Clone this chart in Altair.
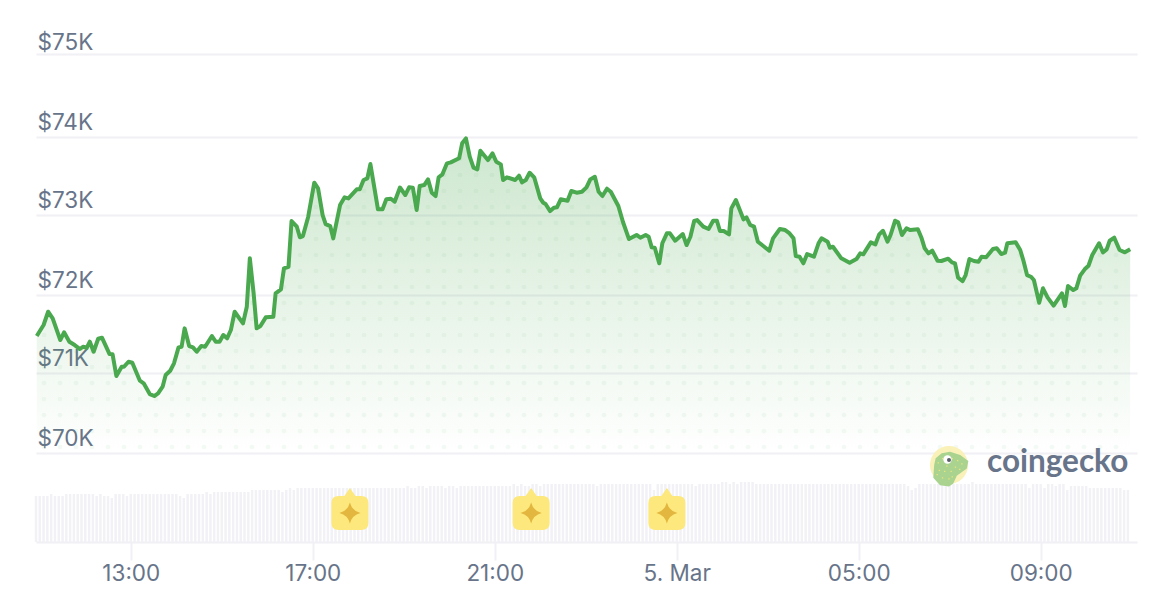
import datetime as dt
import numpy as np
import pandas as pd
import altair as alt

# ---- price series: minutes after 10:55 and USD price
line_minutes = [1,10,16,22,32,37,44,51,58,62,67,71,76,82,87,97,101,106,113,116,122,127,137,142,150,156,161,167,171,177,182,188,192,196,202,207,212,218,223,232,237,242,247,252,257,262,273,278,282,287,291,296,303,313,316,323,327,333,337,344,348,352,359,367,372,378,382,388,392,401,407,412,423,427,432,437,441,451,457,462,468,473,480,487,492,497,502,506,512,517,522,527,531,536,542,547,558,562,567,572,577,582,586,596,602,607,613,616,621,632,637,641,646,651,657,665,669,672,678,683,687,692,701,706,713,720,726,731,737,742,747,753,758,768,774,782,792,797,804,808,812,816,822,826,832,836,843,853,858,863,868,872,880,887,893,898,902,907,914,917,923,933,937,942,947,952,967,972,981,988,993,999,1002,1007,1012,1017,1026,1032,1036,1044,1047,1051,1062,1073,1082,1087,1091,1101,1107,1112,1117,1123,1127,1133,1137,1142,1148,1153,1163,1168,1172,1177,1182,1189,1194,1203,1208,1212,1216,1222,1226,1231,1237,1243,1247,1253,1262,1267,1273,1278,1281,1292,1298,1302,1307,1312,1316,1323,1328,1334,1342,1353,1357,1361,1368,1372,1377,1383,1388,1393,1402,1407,1412,1416,1422,1429,1436,1443]
line_prices = [71466,71604,71770,71688,71416,71512,71395,71353,71303,71332,71319,71395,71269,71432,71445,71240,71237,70965,71081,71081,71144,71131,70906,70873,70739,70714,70748,70831,70977,71031,71124,71324,71332,71562,71341,71324,71269,71341,71332,71466,71395,71395,71479,71437,71541,71770,71625,71833,72440,72001,71562,71591,71700,71708,72001,72051,72314,72334,72907,72836,72703,72719,72961,73387,73317,72982,72869,72844,72690,73107,73204,73191,73304,73304,73421,73442,73621,73054,73054,73179,73186,73149,73327,73233,73329,73324,73045,73346,73358,73429,73262,73220,73455,73492,73630,73642,73693,73881,73943,73713,73575,73555,73788,73671,73755,73650,73617,73421,73455,73421,73475,73392,73421,73512,73455,73191,73136,73120,73032,73074,73079,73179,73161,73283,73262,73274,73329,73429,73462,73274,73220,73312,73274,73095,72898,72681,72732,72698,72732,72710,72577,72572,72377,72628,72753,72753,72660,72744,72606,72710,72907,72919,72836,72807,72911,72911,72782,72782,72740,73066,73170,72928,72953,72857,72836,72648,72535,72690,72807,72794,72760,72690,72468,72460,72377,72493,72460,72628,72690,72648,72572,72585,72440,72384,72431,72502,72490,72640,72615,72740,72785,72648,72732,72911,72891,72732,72815,72794,72803,72690,72565,72502,72535,72410,72406,72435,72389,72377,72197,72155,72230,72431,72406,72397,72460,72452,72556,72565,72493,72510,72628,72640,72544,72418,72230,72209,72168,71883,72064,71951,71846,72001,71842,72093,72042,72064,72222,72302,72347,72481,72628,72515,72552,72660,72698,72544,72515,72552]

# ---- volume bars, one every five minutes (USD billions)
volume = ([46]*4 + [48] + [46]*3 + [48]*8 + [46] + [48] + [46]*2 + [44] + [48]*3 + [46] + [48]*13 + [46] + [44]
          + [48]*5 + [50] + [48] + [50]*10 + [52]*8 + [50] + [52] + [54] + [52] + [54]*29 + [56]
          + [54]*2 + [56]*2 + [54] + [56]*4 + [54] + [56]*2 + [54] + [56]*14 + [58] + [56] + [58] + [56]*2 + [58]*2 + [56]
          + [58]*14 + [56] + [58]*14 + [52] + [58]*10 + [56] + [58]*6 + [60]*2 + [58] + [60] + [58] + [60]*4 + [58]*8
          + [58]*32 + [56] + [52] + [54] + [58]*14 + [60] + [58]*14 + [54] + [58]*3 + [54] + [58]*2 + [56] + [58]*2
          + [52] + [56]*5 + [54]*9 + [52]*2)

# ---- axis
price_ticks = [70000, 71002, 71980, 72982, 73959, 75000]
hour_ticks = [(4, 13), (4, 17), (4, 21), (5, 1), (5, 5), (5, 9)]
event_minutes = [414, 653, 832]

GREEN = "#4aa84e"
GRID = "#f0f0f5"
LABEL = "#677489"
FONT = "Inter"

START = dt.datetime(2024, 3, 4, 10, 55)
def iso(m):
    return (START + dt.timedelta(minutes=float(m))).strftime("%Y-%m-%dT%H:%M:%SZ")

line_df = pd.DataFrame({"t": [iso(m) for m in line_minutes], "price": line_prices, "base": 70000})
vol_df = pd.DataFrame({"t": [iso(i * 5) for i in range(len(volume))], "volume": volume})
event_df = pd.DataFrame({"t": [iso(m) for m in event_minutes]})

# decorative dot texture, kept only beneath the price line
dot_rows = []
for m in np.arange(10.55, 1440, 21.1):
    top = np.interp(m, line_minutes, line_prices)
    for p in np.arange(70075, 74500, 200.5):
        if p < top - 30:
            dot_rows.append({"t": iso(m), "price": float(p)})
dot_df = pd.DataFrame(dot_rows)

x_scale = alt.Scale(
    type="utc", padding=0,
    domain=[alt.DateTime(year=2024, month=3, date=4, hours=10, minutes=55, utc=True),
            alt.DateTime(year=2024, month=3, date=5, hours=11, minutes=7, utc=True)],
)
y_scale = alt.Scale(domain=[68885, 75000], nice=False, zero=False)
v_scale = alt.Scale(domain=[0, 488], nice=False, zero=False)

x_axis = alt.Axis(
    values=[alt.DateTime(year=2024, month=3, date=d, hours=h, utc=True) for d, h in hour_ticks],
    labelExpr="utchours(datum.value)==1 ? '5. Mar' : utcFormat(datum.value, '%H:%M')",
    title=None, grid=False, domainColor=GRID, domainWidth=2, tickColor=GRID, tickWidth=2, tickSize=18,
    labelFont=FONT, labelFontSize=22.5, labelColor=LABEL, labelPadding=2, labelOverlap=False, labelFlush=False,
)
X = alt.X("t:T", scale=x_scale, axis=x_axis, title=None)
y_axis = alt.Axis(
    values=price_ticks,
    labelExpr="'$' + round(datum.value / 1000) + 'K'",
    title=None, grid=True, gridColor=GRID, gridWidth=2, domain=False, ticks=False, tickSize=0,
    labelAlign="left", labelPadding=-1, labelBaseline="alphabetic",
    labelOffset=alt.expr("datum.value == 75000 ? -5 : -8"),
    labelFont=FONT, labelFontSize=22.5, labelColor=LABEL, labelOverlap=False,
)

bars = alt.Chart(vol_df).mark_bar(size=2.4, color="#f1f1f6").encode(
    x=X,
    y=alt.Y("volume:Q", scale=v_scale, axis=None),
)
area = alt.Chart(line_df).mark_area(
    color=alt.Gradient(
        gradient="linear",
        stops=[alt.GradientStop(color="rgba(74,168,78,0.28)", offset=0),
               alt.GradientStop(color="rgba(74,168,78,0.0)", offset=1)],
        x1=1, x2=1, y1=0, y2=1,
    )
).encode(
    x=X,
    y=alt.Y("price:Q", scale=y_scale, axis=y_axis),
    y2="base:Q",
)
dots = alt.Chart(dot_df).mark_circle(size=22, color=GREEN, opacity=0.06).encode(
    x=X, y=alt.Y("price:Q", scale=y_scale, axis=None),
)
line = alt.Chart(line_df).mark_line(color=GREEN, strokeWidth=4, strokeJoin="round").encode(
    x=X, y=alt.Y("price:Q", scale=y_scale, axis=None),
)

BADGE = ("M-0.62,-0.92 L-0.3,-0.92 L0,-1.35 L0.3,-0.92 L0.62,-0.92 Q1,-0.92 1,-0.54 L1,0.54 "
         "Q1,0.92 0.62,0.92 L-0.62,0.92 Q-1,0.92 -1,0.54 L-1,-0.54 Q-1,-0.92 -0.62,-0.92 Z")
STAR = "M0,-1 Q0.2,-0.2 1,0 Q0.2,0.2 0,1 Q-0.2,0.2 -1,0 Q-0.2,-0.2 0,-1 Z"
badge = alt.Chart(event_df).mark_point(shape=BADGE, size=1369, filled=True, color="#fce87c", opacity=1, strokeWidth=0).encode(
    x=X, y=alt.value(459))
star = alt.Chart(event_df).mark_point(shape=STAR, size=441, filled=True, color="#e3b63f", opacity=1, strokeWidth=0).encode(
    x=X, y=alt.value(459))

one = pd.DataFrame({"a": [0]})
GECKO = ("M-0.69,0 L-0.62,-0.31 L-0.34,-0.55 L0.05,-0.62 L0.52,-0.47 L0.9,-0.19 L0.83,0.16 L0.36,0.5 "
         "L0.2,0.86 L0,1 L-0.42,0.94 L-0.73,0.59 Z")
speckles = [(-0.5,-0.1),(-0.3,-0.3),(-0.1,0.05),(0.15,-0.3),(0.4,-0.2),(0.6,-0.05),(0.3,0.1),(0.1,0.3),
            (-0.2,0.3),(-0.45,0.25),(-0.3,0.6),(0,0.65),(-0.55,0.45),(0.5,0.2),(0.15,0.55),(-0.05,-0.15)]
SPECK = " ".join(f"M{a-0.03:.2f},{b-0.03:.2f} h0.06 v0.06 h-0.06 Z" for a, b in speckles)

def glyph(shape, size, color, px, py):
    return alt.Chart(one).mark_point(shape=shape, size=size, filled=True, color=color, opacity=1, strokeWidth=0).encode(
        x=alt.value(px), y=alt.value(py))

logo = [
    alt.Chart(one).mark_circle(size=1450, color="#f9f1b8", opacity=1).encode(x=alt.value(913), y=alt.value(411)),
    glyph(GECKO, 1849, "#a9d38f", 913, 411),
    glyph(SPECK, 1849, "#f0e27a", 913, 411),
    alt.Chart(one).mark_circle(size=70, color="#ffffff", opacity=1).encode(x=alt.value(911.5), y=alt.value(405.5)),
    alt.Chart(one).mark_circle(size=16, color="#5a5f6b", opacity=1).encode(x=alt.value(913), y=alt.value(406)),
    alt.Chart(one).mark_text(text="coingecko", font="Lato", fontSize=31.5, fontWeight=700, color=LABEL,
                             align="left", baseline="alphabetic").encode(x=alt.value(951), y=alt.value(418)),
]

chart = (
    alt.layer(bars, area, dots, line, badge, star, *logo)
    .resolve_scale(y="independent")
    .properties(width=1101, height=488, padding={"left": 28, "top": 46, "right": 11, "bottom": 48},
                autosize=alt.AutoSizeParams(type="none"), background="#ffffff")
    .configure_view(stroke=None)
)
chart.save("out.html", embed_options={"renderer": "svg", "actions": False})
